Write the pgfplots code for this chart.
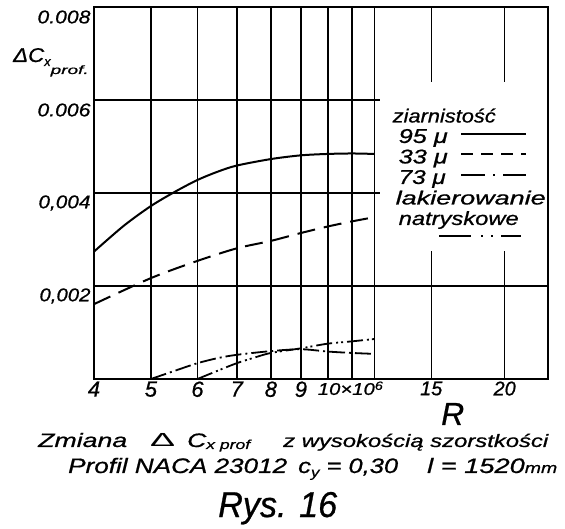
\documentclass[border=0pt]{standalone}
\usepackage{fontspec}
\setmainfont{Liberation Sans}[ItalicFeatures={FakeBold=0.7}]
\usepackage{graphicx}
\usepackage{pgfplots}
\pgfplotsset{compat=1.18}
\newcommand{\fs}[1]{\fontsize{#1}{#1}\selectfont}
\newcommand{\wdt}[2]{\resizebox{#1bp}{\height}{#2}}
\newcommand{\lt}[3]{\makebox[0pt][l]{\hspace{#1bp}\resizebox{#2bp}{\height}{#3}}}
\begin{document}
\begin{tikzpicture}
\path (0,0) rectangle (565bp,529bp);
\begin{axis}[
  at={(94bp,150bp)}, anchor=south west,
  scale only axis, width=454bp, height=372bp,
  xmode=log, xmin=4, xmax=23.7, ymin=0, ymax=0.008,
  scaled y ticks=false,
  xtick={4,5,6,7,8,9,10,11,12,15,20},
  xticklabels={{\fs{22}4},{\fs{22}5},{\fs{22}6},{\fs{22}7},{\fs{22}8},{\fs{22}9},
    {\makebox[0pt][l]{\hspace{-10bp}\resizebox{65bp}{\height}{\fs{17}10×10\raisebox{5bp}{\fs{12}6}}}},{},{},{\fs{20}15},{\fs{20}20}},
  ytick={0.002,0.004,0.006,0.008},
  yticklabels={{\wdt{51}{0,002}},{\wdt{52}{0,004}},{\wdt{53}{0.006}},{\wdt{53}{0.008}}},
  grid=major,
  major grid style={black, line width=1.5bp},
  axis line style={black, line width=2bp},
  major tick length=0pt,
  tick label style={font=\itshape\fs{18.5}},
  yticklabel style={yshift=-10bp},
  xticklabel style={yshift=1bp},
  legend style={at={(rel axis cs:0.630,0.7984)}, anchor=north west, draw=none, fill=white,
    font=\itshape\fs{20}, inner xsep=0bp, inner ysep=0bp,
    nodes={inner sep=0bp, text height=14.5bp, text depth=6bp},
    row sep=0bp, column sep=0bp, legend cell align=left},
  legend plot pos=right,
  legend image code/.code={\path[draw=none,fill=none] (0bp,0bp) rectangle (166bp,1bp); \draw[#1, line width=1.8bp] (80bp,5bp) -- (145bp,5bp);},
]
% 95 mu
\addplot[black, line width=2bp, smooth, forget plot] coordinates {
 (4,0.00274) (4.5,0.00330) (5,0.00372) (5.5,0.00403) (6,0.00428) (6.5,0.00446) (7,0.00459) (8,0.00473) (9,0.00481) (10,0.00484) (11,0.00485) (12,0.00484)};
% 33 mu
\addplot[black, line width=2bp, smooth, dash pattern=on 18bp off 9bp, forget plot] coordinates {
 (4,0.00161) (5,0.00217) (6,0.00254) (7,0.00281) (8,0.00297) (9,0.00314) (10,0.00328) (11,0.00339) (12,0.00348)};
% 73 mu
\addplot[black, line width=1.8bp, smooth, dash pattern=on 16bp off 4bp on 2bp off 4bp, forget plot] coordinates {
 (5,0.0) (5.5,0.00018) (6,0.00034) (6.5,0.00045) (7,0.00052) (8,0.00060) (9,0.00064) (10,0.00059) (11,0.00056) (12,0.00054)};
% lakierowanie natryskowe
\addplot[black, line width=1.8bp, smooth, dash pattern=on 16bp off 4bp on 2bp off 3bp on 2bp off 4bp, forget plot] coordinates {
 (6,0.0) (6.5,0.00018) (7,0.00034) (7.5,0.00046) (8,0.00056) (9,0.00066) (10,0.00076) (11,0.00081) (12,0.00086)};
\addlegendimage{legend image code/.code={\path[draw=none,fill=none] (0bp,0bp) rectangle (166bp,36bp);}}
\addlegendentry{\lt{12}{103}{\fs{19}ziarnistość}}
\addlegendimage{black}
\addlegendentry{\lt{18}{49}{95 μ}}
\addlegendimage{black, dash pattern=on 12bp off 8bp}
\addlegendentry{\lt{18}{49}{33 μ}}
\addlegendimage{black, dash pattern=on 24bp off 8bp on 2bp off 8bp}
\addlegendentry{\lt{18}{47}{73 μ}}
\addlegendimage{empty legend}
\addlegendentry{\lt{15}{150}{\fs{19}lakierowanie}}
\addlegendimage{empty legend}
\addlegendentry{\lt{18}{120}{\fs{19}natryskowe}}
\addlegendimage{legend image code/.code={\path[draw=none,fill=none] (0bp,0bp) rectangle (166bp,1bp); \draw[black, line width=1.8bp, dash pattern=on 32bp off 10bp on 2bp off 8bp on 2bp off 8bp on 40bp off 2bp] (58bp,5bp) -- (140bp,5bp);}}
\addlegendentry{}
\end{axis}
% y-axis label
\node[anchor=base west, inner sep=0pt, font=\itshape\fs{20}] at (13bp,467bp) {\wdt{31}{ΔC}\raisebox{-4bp}{\fs{13}x}\raisebox{-12bp}{\wdt{38}{\fs{12}prof.}}};
% x-axis label
\node[anchor=base west, inner sep=0pt, font=\itshape\fs{32}] at (441bp,104bp) {R};
% caption line 1
\node[anchor=base west, inner sep=0pt, font=\itshape\fs{19.5}] at (38bp,82bp) {\wdt{89}{Zmiana}};
\node[anchor=base west, inner sep=0pt, font=\fs{19}] at (150bp,82bp) {\wdt{25}{Δ}};
\node[anchor=base west, inner sep=0pt, font=\itshape\fs{19.5}] at (187bp,82bp) {\wdt{63}{C\raisebox{-2bp}{\fs{13}x prof}}};
\node[anchor=base west, inner sep=0pt, font=\itshape\fs{18}] at (283bp,82bp) {\wdt{265}{z wysokością szorstkości}};
% caption line 2
\node[anchor=base west, inner sep=0pt, font=\itshape\fs{21}] at (68bp,56bp) {\wdt{219}{Profil NACA 23012}};
\node[anchor=base west, inner sep=0pt, font=\itshape\fs{21}] at (298bp,56bp) {\wdt{100}{c\raisebox{-4bp}{\fs{14}y} = 0,30}};
\node[anchor=base west, inner sep=0pt, font=\itshape\fs{21}] at (427bp,56bp) {\wdt{130}{l = 1520\fs{15}mm}};
% figure number
\node[anchor=base west, inner sep=0pt, font=\itshape\fs{36}] at (218bp,12bp) {\wdt{119}{Rys. 16}};
\end{tikzpicture}
\end{document}
